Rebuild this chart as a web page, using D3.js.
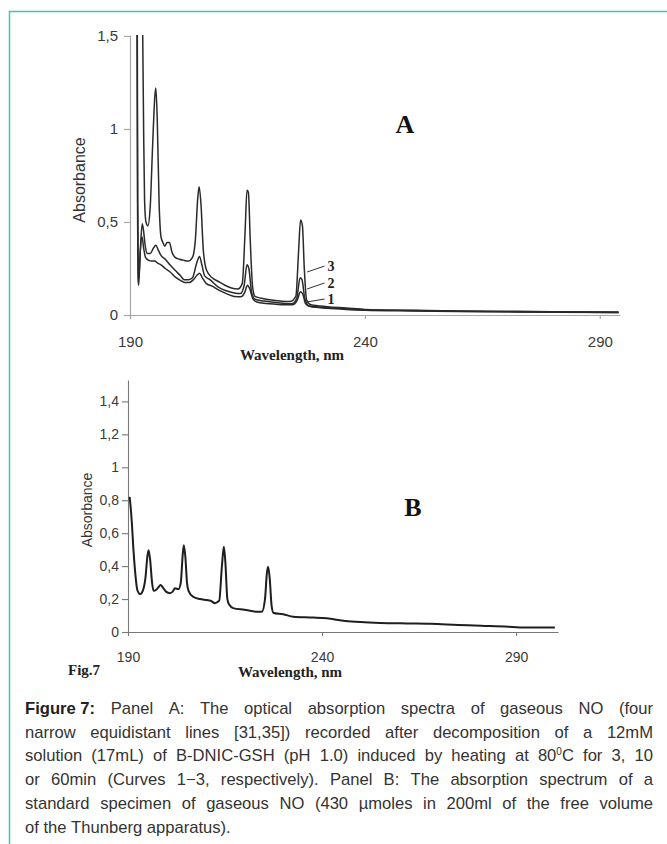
<!DOCTYPE html>
<html>
<head>
<meta charset="utf-8">
<script src="https://cdn.jsdelivr.net/npm/d3@7"></script>
<style>
  body { margin: 0; background: #fff; }
  svg { display: block; }
</style>
</head>
<body>
<script>
// ---- data ----
// Panel A, curves 1-3 : [wavelength nm, absorbance]
var curve1 = [[191.5, 1.52], [191.6, 0.6], [191.7, 0.2], [191.85, 0.16], [192.1, 0.3], [192.55, 0.42], [192.9, 0.36], [193.3, 0.31], [193.9, 0.295], [194.6, 0.29], [195.3, 0.29], [195.8, 0.28], [196.6, 0.27], [197.5, 0.25], [198.6, 0.23], [199.6, 0.205], [200.8, 0.185], [201.6, 0.175], [202.6, 0.175], [203.5, 0.19], [204.3, 0.215], [204.8, 0.225], [205.4, 0.2], [206.2, 0.17], [207.5, 0.155], [208.8, 0.135], [210.5, 0.115], [212.2, 0.1], [213.6, 0.098], [214.4, 0.12], [215.0, 0.16], [215.5, 0.14], [216.2, 0.085], [217, 0.07], [219, 0.062], [221, 0.058], [223, 0.055], [224.6, 0.055], [225.6, 0.08], [226.3, 0.125], [226.8, 0.11], [227.4, 0.06], [228.3, 0.045], [232, 0.036], [236, 0.03], [240, 0.026], [250, 0.022], [260, 0.019], [270, 0.017], [280, 0.015], [294, 0.013]];
var curve2 = [[191.55, 1.52], [191.65, 0.6], [191.75, 0.25], [191.9, 0.2], [192.2, 0.35], [192.6, 0.49], [192.9, 0.45], [193.2, 0.38], [193.7, 0.33], [194.3, 0.33], [195.0, 0.36], [195.5, 0.375], [196.0, 0.35], [196.6, 0.32], [197.5, 0.3], [198.5, 0.27], [199.6, 0.24], [200.8, 0.21], [201.5, 0.19], [202.5, 0.19], [203.3, 0.2], [204.2, 0.28], [204.8, 0.315], [205.3, 0.27], [205.9, 0.21], [207, 0.19], [208.8, 0.15], [210.5, 0.13], [212.2, 0.118], [213.5, 0.115], [214.3, 0.16], [214.9, 0.27], [215.3, 0.25], [215.9, 0.12], [216.6, 0.085], [218.5, 0.075], [220.5, 0.068], [222.5, 0.063], [224.4, 0.06], [225.5, 0.09], [226.2, 0.2], [226.6, 0.19], [227.2, 0.09], [228, 0.05], [232, 0.04], [236, 0.034], [240, 0.028], [250, 0.024], [260, 0.02], [270, 0.018], [280, 0.016], [294, 0.014]];
var curve3 = [[192.7, 1.52], [192.9, 1.0], [193.1, 0.62], [193.4, 0.5], [193.8, 0.48], [194.3, 0.58], [194.8, 0.9], [195.3, 1.18], [195.5, 1.22], [195.8, 1.05], [196.2, 0.6], [196.6, 0.42], [197.0, 0.39], [197.4, 0.37], [197.9, 0.39], [198.4, 0.39], [198.9, 0.34], [199.6, 0.31], [200.5, 0.3], [201.3, 0.295], [202.4, 0.29], [203.3, 0.31], [203.9, 0.4], [204.4, 0.62], [204.7, 0.69], [205.1, 0.6], [205.6, 0.35], [206.3, 0.24], [207.5, 0.2], [208.8, 0.18], [210.2, 0.16], [211.6, 0.145], [213.0, 0.14], [213.9, 0.17], [214.5, 0.45], [214.9, 0.67], [215.2, 0.66], [215.6, 0.4], [216.1, 0.15], [216.6, 0.1], [218, 0.09], [220.1, 0.08], [222, 0.075], [224, 0.072], [225.3, 0.1], [225.9, 0.35], [226.3, 0.51], [226.7, 0.48], [227.1, 0.25], [227.6, 0.08], [228.5, 0.055], [232, 0.045], [236, 0.038], [240, 0.03], [250, 0.025], [260, 0.022], [270, 0.02], [280, 0.018], [294, 0.016]];

// Panel B, standard NO spectrum
var spectrumB = [[190.4, 0.82], [190.6, 0.78], [191.0, 0.66], [191.4, 0.5], [191.8, 0.376], [192.4, 0.255], [193.1, 0.23], [193.8, 0.25], [194.5, 0.33], [195.0, 0.46], [195.3, 0.497], [195.7, 0.44], [196.2, 0.3], [196.6, 0.25], [197.2, 0.255], [197.8, 0.27], [198.4, 0.285], [199.0, 0.27], [199.8, 0.245], [200.8, 0.236], [201.5, 0.245], [202.1, 0.265], [203.0, 0.26], [203.6, 0.3], [204.1, 0.47], [204.4, 0.527], [204.8, 0.45], [205.2, 0.3], [205.6, 0.25], [206.8, 0.214], [208.5, 0.2], [210.3, 0.194], [211.3, 0.19], [212.4, 0.175], [213.5, 0.19], [214.2, 0.4], [214.7, 0.517], [215.1, 0.42], [215.6, 0.2], [216.1, 0.165], [217.1, 0.145], [220, 0.135], [223.2, 0.123], [224.5, 0.123], [225.3, 0.2], [225.8, 0.36], [226.1, 0.396], [226.5, 0.33], [227.0, 0.16], [227.5, 0.115], [230, 0.108], [232.6, 0.093], [237.7, 0.088], [241.2, 0.083], [246, 0.067], [250, 0.06], [255, 0.055], [262, 0.052], [268, 0.05], [275, 0.043], [281, 0.038], [288, 0.032], [291, 0.028], [300, 0.028]];

// ticks
var xTicks = [190, 240, 290];
var yTicksA = [0, 0.5, 1, 1.5];
var yTicksB = [0, 0.2, 0.4, 0.6, 0.8, 1, 1.2, 1.4];

// curve labels of panel A (leader from / to, in absorbance units)
var curveNames = ['1', '2', '3'];
var leaderFromAbs = [0.07, 0.14, 0.231];
var leaderToAbs = [0.086, 0.172, 0.263];

// caption
var captionLines = [
  [{t: 'Figure 7:', b: true}, 'Panel', 'A:', 'The', 'optical', 'absorption', 'spectra', 'of', 'gaseous', 'NO', '(four'],
  'narrow equidistant lines [31,35]) recorded after decomposition of a 12mM'.split(' '),
  ['solution', '(17mL)', 'of', 'B-DNIC-GSH', '(pH', '1.0)', 'induced', 'by', 'heating', 'at', [{t: '80'}, {t: '0', sup: true}, {t: 'C'}], 'for', '3,', '10'],
  'or 60min (Curves 1\u22123, respectively). Panel B: The absorption spectrum of a'.split(' '),
  'standard specimen of gaseous NO (430 \u00b5moles in 200ml of the free volume'.split(' '),
  'of the Thunberg apparatus).'.split(' ')
];

// ---- drawing ----
var sans = '"Liberation Sans", Arial, sans-serif';
var serif = '"Liberation Serif", "Times New Roman", serif';
var comma = function(d) { return String(d).replace('.', ','); };

var svg = d3.select('body').append('svg')
  .attr('width', 667).attr('height', 844);

svg.append('rect').attr('width', 667).attr('height', 844).attr('fill', '#fff');

// teal frame
svg.append('path')
  .attr('d', 'M9.5,844V11.5H667')
  .attr('fill', 'none')
  .attr('stroke', '#3dc7b1')
  .attr('stroke-width', 1.5);

var line = function(x, y) {
  return d3.line()
    .x(function(d) { return x(d[0]); })
    .y(function(d) { return y(d[1]); })
    .curve(d3.curveMonotoneX);
};

// Panel A
var xA = d3.scaleLinear().domain([190, 294.3]).range([130, 620]);
var yA = d3.scaleLinear().domain([0, 1.505]).range([315, 35]);

var gA = svg.append('g');

gA.append('clipPath').attr('id', 'clipA')
  .append('rect').attr('x', 130).attr('y', 35).attr('width', 495).attr('height', 285);

var axA = gA.append('g').attr('transform', 'translate(0,315)')
  .call(d3.axisBottom(xA).tickValues(xTicks).tickSize(4).tickSizeOuter(0).tickPadding(17));
var ayA = gA.append('g').attr('transform', 'translate(130,0)')
  .call(d3.axisLeft(yA).tickValues(yTicksA).tickFormat(comma).tickSize(6).tickSizeOuter(0).tickPadding(6));
[axA, ayA].forEach(function(a) {
  a.selectAll('path, line').attr('stroke', '#a8a8a8').attr('stroke-width', 1.2);
  a.selectAll('text').attr('font-family', sans).attr('font-size', 15).attr('fill', '#3a3a3a');
});

gA.append('g').attr('clip-path', 'url(#clipA)')
  .selectAll('path').data([curve1, curve2, curve3]).enter()
  .append('path')
  .attr('d', line(xA, yA))
  .attr('fill', 'none')
  .attr('stroke', '#2a2a2a')
  .attr('stroke-width', 1.5)
  .attr('stroke-linejoin', 'round');

// leaders and curve numbers
var leaders = gA.selectAll('.leader').data(curveNames).enter().append('g').attr('class', 'leader');
leaders.append('line')
  .attr('x1', xA(227.7)).attr('x2', xA(231.4))
  .attr('y1', function(d, i) { return yA(leaderFromAbs[i]); })
  .attr('y2', function(d, i) { return yA(leaderToAbs[i]); })
  .attr('stroke', '#333').attr('stroke-width', 1);
leaders.append('text')
  .attr('x', xA(231.4) + 3)
  .attr('y', function(d, i) { return yA(leaderToAbs[i]) + 5; })
  .attr('font-family', serif).attr('font-weight', 'bold').attr('font-size', 14)
  .attr('fill', '#222')
  .text(function(d) { return d; });

gA.append('text')
  .attr('transform', 'translate(85,180) rotate(-90)')
  .attr('text-anchor', 'middle')
  .attr('font-family', sans).attr('font-size', 16).attr('fill', '#333')
  .text('Absorbance');
gA.append('text')
  .attr('x', 292).attr('y', 360).attr('text-anchor', 'middle')
  .attr('font-family', serif).attr('font-weight', 'bold').attr('font-size', 15).attr('fill', '#222')
  .text('Wavelength, nm');
gA.append('text')
  .attr('x', 405).attr('y', 133).attr('text-anchor', 'middle')
  .attr('font-family', serif).attr('font-weight', 'bold').attr('font-size', 26).attr('fill', '#111')
  .text('A');

// Panel B
var xB = d3.scaleLinear().domain([190, 300.8]).range([128, 558]);
var yB = d3.scaleLinear().domain([0, 1.53]).range([632, 380]);

var gB = svg.append('g');

var axB = gB.append('g').attr('transform', 'translate(0,632)')
  .call(d3.axisBottom(xB).tickValues(xTicks).tickSize(4).tickSizeOuter(0).tickPadding(16));
var ayB = gB.append('g').attr('transform', 'translate(128,0)')
  .call(d3.axisLeft(yB).tickValues(yTicksB).tickFormat(comma).tickSize(6).tickSizeOuter(0).tickPadding(3));
[axB, ayB].forEach(function(a) {
  a.selectAll('path, line').attr('stroke', '#777').attr('stroke-width', 1.1);
  a.selectAll('text').attr('font-family', sans).attr('font-size', 14).attr('fill', '#3a3a3a');
});

gB.append('path')
  .datum(spectrumB)
  .attr('d', line(xB, yB))
  .attr('fill', 'none')
  .attr('stroke', '#1e1e1e')
  .attr('stroke-width', 2)
  .attr('stroke-linejoin', 'round');

gB.append('text')
  .attr('transform', 'translate(92,510) rotate(-90)')
  .attr('text-anchor', 'middle')
  .attr('font-family', sans).attr('font-size', 14).attr('fill', '#333')
  .text('Absorbance');
gB.append('text')
  .attr('x', 290).attr('y', 677).attr('text-anchor', 'middle')
  .attr('font-family', serif).attr('font-weight', 'bold').attr('font-size', 15).attr('fill', '#222')
  .text('Wavelength, nm');
gB.append('text')
  .attr('x', 413).attr('y', 516).attr('text-anchor', 'middle')
  .attr('font-family', serif).attr('font-weight', 'bold').attr('font-size', 26).attr('fill', '#111')
  .text('B');
gB.append('text')
  .attr('x', 68).attr('y', 675)
  .attr('font-family', serif).attr('font-weight', 'bold').attr('font-size', 15).attr('fill', '#222')
  .text('Fig.7');

// caption, justified between two margins
var capLeft = 25;
var capRight = 653;
var capTop = 714;
var capStep = 23.7;
var capG = svg.append('g')
  .attr('font-family', sans).attr('font-size', 16.6).attr('fill', '#333');

captionLines.forEach(function(words, li) {
  var y = capTop + li * capStep;
  var nodes = words.map(function(w) {
    var t = capG.append('text').attr('y', y);
    var parts = typeof w === 'string' ? [{t: w}] : (Array.isArray(w) ? w : [w]);
    parts.forEach(function(p, pi) {
      var s = t.append('tspan').text(p.t);
      if (p.b) { s.attr('font-weight', 'bold').attr('fill', '#222'); }
      if (p.sup) { s.attr('font-size', 10).attr('dy', -6); }
      if (pi > 0 && parts[pi - 1].sup) { s.attr('dy', 6); }
    });
    return t;
  });
  var widths = nodes.map(function(n) { return n.node().getComputedTextLength(); });
  var total = d3.sum(widths);
  var last = li === captionLines.length - 1;
  var gap = last ? 4.6 : (capRight - capLeft - total) / (nodes.length - 1);
  var x = capLeft;
  nodes.forEach(function(n, i) {
    n.attr('x', x);
    x += widths[i] + gap;
  });
});
</script>
</body>
</html>
